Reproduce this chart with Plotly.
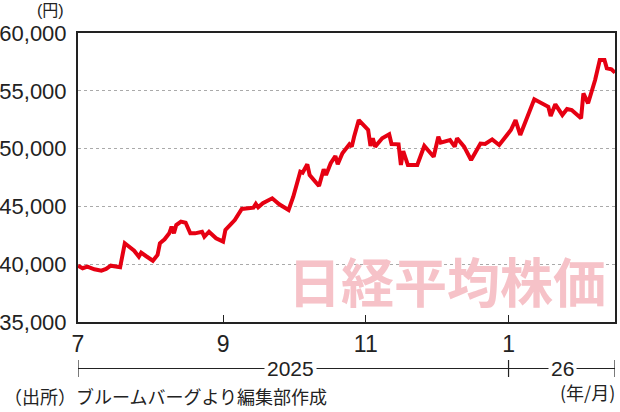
import plotly.graph_objects as go

dates = [
    "2025-07-01", "2025-07-03", "2025-07-05", "2025-07-08", "2025-07-11", "2025-07-13",
    "2025-07-15", "2025-07-17", "2025-07-19", "2025-07-21", "2025-07-23", "2025-07-25",
    "2025-07-27", "2025-07-28", "2025-07-30", "2025-08-02", "2025-08-04", "2025-08-05",
    "2025-08-07", "2025-08-09", "2025-08-10", "2025-08-11", "2025-08-12", "2025-08-14",
    "2025-08-16", "2025-08-18", "2025-08-20", "2025-08-23", "2025-08-24", "2025-08-26",
    "2025-08-29", "2025-09-01", "2025-09-02", "2025-09-05", "2025-09-06", "2025-09-09",
    "2025-09-14", "2025-09-15", "2025-09-16", "2025-09-18", "2025-09-22", "2025-09-25",
    "2025-09-29", "2025-10-01", "2025-10-04", "2025-10-05", "2025-10-07", "2025-10-08",
    "2025-10-12", "2025-10-14", "2025-10-15", "2025-10-17", "2025-10-19", "2025-10-20",
    "2025-10-22", "2025-10-25", "2025-10-26", "2025-10-27", "2025-10-29", "2025-11-02",
    "2025-11-03", "2025-11-04", "2025-11-05", "2025-11-08", "2025-11-11", "2025-11-12",
    "2025-11-15", "2025-11-16", "2025-11-17", "2025-11-19", "2025-11-23", "2025-11-26",
    "2025-11-30", "2025-12-02", "2025-12-03", "2025-12-07", "2025-12-09", "2025-12-10",
    "2025-12-13", "2025-12-16", "2025-12-20", "2025-12-22", "2025-12-25", "2025-12-28",
    "2026-01-02", "2026-01-04", "2026-01-06", "2026-01-12", "2026-01-18", "2026-01-19",
    "2026-01-21", "2026-01-24", "2026-01-26", "2026-01-28", "2026-02-01", "2026-02-02",
    "2026-02-04", "2026-02-07", "2026-02-09", "2026-02-11", "2026-02-12", "2026-02-14",
    "2026-02-15 12:00",
]
nikkei = [
    39870, 39650, 39790, 39560, 39440, 39590,
    39870, 39790, 39730, 41810, 41460, 41170,
    40650, 41000, 40710, 40300, 40800, 41810,
    42150, 42670, 43250, 42670, 43390, 43680,
    43590, 42670, 42670, 42810, 42380, 42810,
    42240, 41950, 42960, 43680, 43820, 44780,
    44890, 45210, 44920, 45270, 45700, 45180,
    44690, 45840, 48000, 47920, 48640, 47720,
    46770, 48210, 47720, 48730, 49360, 48640,
    49590, 50370, 50170, 51030, 52470, 51610,
    50230, 50890, 50170, 50890, 51240, 50400,
    50370, 48580, 49790, 48580, 48580, 50230,
    49300, 51030, 50510, 50740, 50170, 50890,
    50170, 49010, 50430, 50400, 50800, 50310,
    51610, 52470, 51180, 54260, 53620, 52820,
    53830, 52910, 53430, 53340, 52620, 54780,
    53920, 55930, 57660, 57660, 56950, 56860,
    56570,
]

y_ticks = [35000, 40000, 45000, 50000, 55000, 60000]
y_labels = ["35,000", "40,000", "45,000", "50,000", "55,000", "60,000"]
x_ticks = ["2025-07-01", "2025-09-01", "2025-11-01", "2026-01-01"]
x_labels = ["7", "9", "11", "1"]
x_range = ["2025-07-01", "2026-02-15 12:00"]
year_bounds = ["2025-07-01", "2026-01-01", "2026-02-15 12:00"]
year_labels = ["2025", "26"]
year_label_pos = ["2025-09-30", "2026-01-24"]

NUM_FONT = "Liberation Sans"
JP_FONT = "Noto Sans CJK JP"

fig = go.Figure()
fig.add_trace(go.Scatter(
    x=dates, y=nikkei, mode="lines",
    line=dict(color="#e60012", width=4), hoverinfo="skip", showlegend=False,
))

fig.update_layout(
    width=620, height=412,
    margin=dict(l=78, r=5, t=33, b=90),
    paper_bgcolor="white", plot_bgcolor="white",
    xaxis=dict(
        type="date", range=x_range, automargin=False,
        tickmode="array", tickvals=x_ticks, ticktext=x_labels,
        ticks="inside", ticklen=7, tickwidth=1, tickcolor="#222",
        showgrid=False, zeroline=False,
        showline=True, linecolor="#222", linewidth=2, mirror=True,
        tickfont=dict(family=NUM_FONT, size=23, color="#222"),
        ticklabelstandoff=0,
    ),
    yaxis=dict(
        range=[35000, 60000], automargin=False,
        tickmode="array", tickvals=y_ticks, ticktext=y_labels,
        ticks="", showgrid=True, gridcolor="#aaa", griddash="dot", gridwidth=1,
        zeroline=False,
        showline=True, linecolor="#222", linewidth=2, mirror=True,
        tickfont=dict(family=NUM_FONT, size=22, color="#222"),
        ticklabelstandoff=5,
    ),
)

def py(pix):
    return (322 - pix) / 289.0

shapes = []
shapes.append(dict(type="line", xref="x", yref="paper",
                   x0=year_bounds[0], x1=year_bounds[-1], y0=py(368.5), y1=py(368.5),
                   line=dict(color="#222", width=1.2)))
for b in year_bounds:
    shapes.append(dict(type="line", xref="x", yref="paper",
                       x0=b, x1=b, y0=py(360), y1=py(377),
                       line=dict(color="#222", width=1.2)))
fig.update_layout(shapes=shapes)

ann = []
for lab, pos in zip(year_labels, year_label_pos):
    ann.append(dict(x=pos, xref="x", y=py(368.5), yref="paper", text=lab,
                    showarrow=False, bgcolor="white", borderpad=2,
                    font=dict(family=NUM_FONT, size=21, color="#222"),
                    xanchor="center", yanchor="middle"))
ann.append(dict(x=(617 - 78) / 537.0, xref="paper", y=py(392), yref="paper",
                text="(年/月)", showarrow=False, xanchor="right", yanchor="middle",
                font=dict(family=JP_FONT, size=18, color="#222")))
ann.append(dict(x=(2 - 78) / 537.0, xref="paper", y=py(396), yref="paper",
                text="（出所）ブルームバーグより編集部作成", showarrow=False,
                xanchor="left", yanchor="middle",
                font=dict(family=JP_FONT, size=18, color="#222")))
ann.append(dict(x=(50 - 78) / 537.0, xref="paper", y=py(10.5), yref="paper",
                text="(円)", showarrow=False, xanchor="center", yanchor="middle",
                borderpad=0,
                font=dict(family="Liberation Sans, Noto Sans CJK JP", size=16, color="#222")))
ann.append(dict(x=(447 - 78) / 537.0, xref="paper", y=py(280), yref="paper",
                text="<b>日経平均株価</b>", showarrow=False, xanchor="center", yanchor="middle",
                font=dict(family=JP_FONT, size=53, color="#f6c2c8")))
fig.update_layout(annotations=ann)

fig.write_html("out.html")
